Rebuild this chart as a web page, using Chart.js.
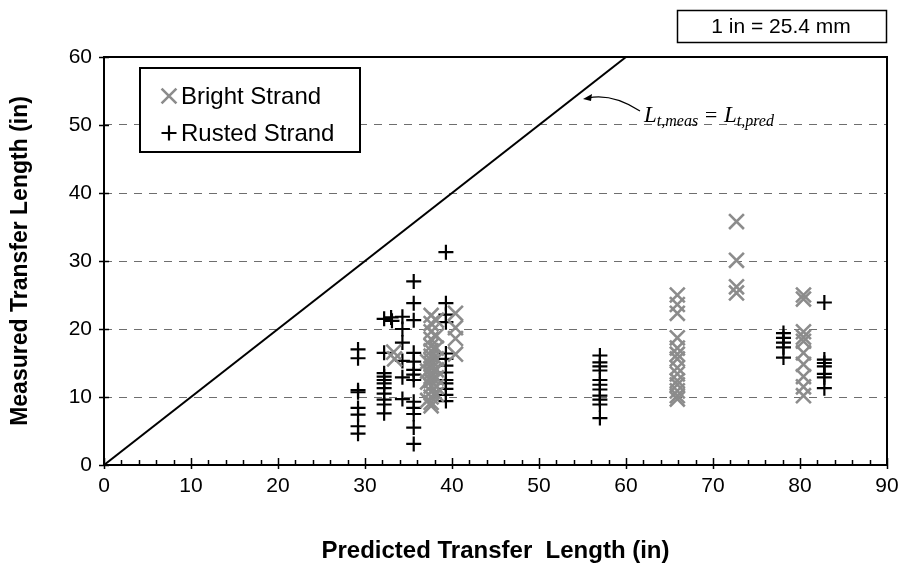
<!DOCTYPE html>
<html>
<head>
<meta charset="utf-8">
<title>Measured vs Predicted Transfer Length</title>
<script src="https://cdn.jsdelivr.net/npm/chart.js@4.4.1/dist/chart.umd.min.js"></script>
<style>
    html, body { margin: 0; padding: 0; background: #fff; }
    #chart { display: block; }
</style>
</head>
<body>
<canvas id="chart" width="911" height="572"></canvas>
<script>
    'use strict';

    // Bright strand specimens (in)
    const brightX = [
        33.3, 33.4,
        37.6, 37.6, 37.6, 37.6, 37.6, 37.6, 37.6, 37.6, 37.6, 37.6, 37.6, 37.6, 37.6, 37.6, 37.6, 37.6, 37.6, 37.6,
        38.2, 38.2, 38.2, 38.2, 38.2, 38.2, 38.2, 38.2,
        37.2, 37.2, 37.2, 37.2,
        40.4, 40.4, 40.4, 40.4,
        65.9, 65.9, 65.9, 65.9, 65.9, 65.9, 65.9, 65.9, 65.9, 65.9, 65.9, 65.9, 65.9, 65.9,
        72.7, 72.7, 72.7, 72.7,
        80.4, 80.4, 80.4, 80.4, 80.4, 80.4, 80.4, 80.4, 80.4, 80.4
    ];
    const brightY = [
        16.6, 15.6,
        22.0, 20.8, 19.6, 18.5, 17.5, 16.8, 16.0, 15.4, 14.8, 14.2, 13.6, 13.0, 12.4, 11.6, 10.8, 10.0, 9.2, 8.7,
        21.3, 19.0, 17.2, 15.6, 14.0, 12.8, 11.5, 10.4,
        15.2, 13.8, 12.2, 9.5,
        22.3, 20.2, 18.6, 16.3,
        25.0, 23.6, 22.3, 18.7, 17.2, 16.3, 15.6, 14.3, 13.4, 12.4, 11.8, 10.9, 10.2, 9.7,
        35.8, 30.1, 26.2, 25.3,
        25.0, 24.4, 19.6, 18.8, 18.2, 16.5, 14.8, 13.0, 11.5, 10.2
    ];

    // Rusted strand specimens (in)
    const rustedX = [
        29.2, 29.2, 29.2, 29.2, 29.2, 29.2, 29.2, 29.2,
        32.2, 32.2, 32.2, 32.2, 32.2, 32.2, 32.2, 32.2, 32.2, 32.2, 32.2,
        33.0, 33.1,
        34.3, 34.3, 34.3, 34.3, 34.3, 34.3,
        35.6, 35.6, 35.6, 35.6, 35.6, 35.6, 35.6, 35.6, 35.6, 35.6, 35.6, 35.6, 35.6,
        39.3, 39.3, 39.3, 39.3, 39.3, 39.3, 39.3, 39.3, 39.3, 39.3, 39.3, 39.3, 39.3,
        57.0, 57.0, 57.0, 57.0, 57.0, 57.0, 57.0, 57.0, 57.0, 57.0, 57.0,
        78.1, 78.1, 78.1, 78.1, 78.1,
        82.8, 82.8, 82.8, 82.8, 82.8, 82.8, 82.8
    ];
    const rustedY = [
        17.0, 15.7, 11.0, 10.7, 8.4, 7.4, 5.7, 4.6,
        21.5, 16.5, 13.5, 13.0, 12.5, 12.0, 11.3, 10.5, 9.6, 8.9, 7.6,
        21.7, 21.2,
        21.8, 20.0, 18.0, 15.3, 12.9, 9.7,
        27.0, 23.8, 21.3, 16.5, 15.2, 14.0, 13.3, 12.5, 9.3, 8.4, 7.5, 5.5, 3.1,
        31.3, 23.8, 22.1, 21.0, 16.4, 15.6, 14.6, 13.6, 12.5, 12.0, 11.2, 10.3, 9.4,
        16.1, 15.1, 14.5, 13.9, 12.5, 11.8, 11.1, 10.2, 9.6, 8.9, 6.9,
        19.4, 18.7, 18.0, 17.3, 15.8,
        23.9, 15.5, 15.0, 14.5, 13.4, 12.9, 11.3
    ];

    // Line of equality, Lt,meas = Lt,pred
    const equalityX = [0, 60];
    const equalityY = [0, 60];

    const xMin = 0, xMax = 90, xStep = 10, xMinorStep = 2;
    const yMin = 0, yMax = 60, yStep = 10;

    const SANS = '"Liberation Sans", Arial, sans-serif';
    const SERIF = '"Liberation Serif", "Times New Roman", serif';
    const GREY = '#8c8c8c';

    const toPoints = (xs, ys) => xs.map((x, i) => ({ x: x, y: ys[i] }));

    // plot frame plus the tick marks on both axes
    const frameTicks = {
        id: 'frameTicks',
        afterDatasetsDraw(chart) {
            const { ctx, chartArea: a, scales: { x, y } } = chart;
            ctx.save();
            ctx.strokeStyle = '#000';
            ctx.lineWidth = 1.5;
            ctx.beginPath();
            for (let v = xMin; v <= xMax; v += xMinorStep) {
                const px = Math.round(x.getPixelForValue(v)) + 0.5;
                const major = v % xStep === 0;
                ctx.moveTo(px, a.bottom - (major ? 7 : 5));
                ctx.lineTo(px, a.bottom + (major ? 4 : 0));
            }
            for (let v = yMin; v <= yMax; v += yStep) {
                const py = Math.round(y.getPixelForValue(v)) + 0.5;
                ctx.moveTo(a.left - 5, py);
                ctx.lineTo(a.left + 5, py);
            }
            ctx.stroke();
            ctx.lineWidth = 2;
            ctx.strokeRect(a.left, a.top, a.right - a.left, a.bottom - a.top);
            ctx.restore();
        }
    };

    // legend box, equality-line note and the unit box
    const overlays = {
        id: 'overlays',
        afterDraw(chart) {
            const ctx = chart.ctx;
            const sets = chart.data.datasets;
            ctx.save();

            // legend
            ctx.fillStyle = '#fff';
            ctx.fillRect(140, 68, 220, 84);
            ctx.strokeStyle = '#000';
            ctx.lineWidth = 2;
            ctx.strokeRect(140, 68, 220, 84);
            [0, 1].forEach((i, row) => {
                const ds = sets[i];
                const cy = 96 + row * 37;
                ctx.strokeStyle = ds.borderColor;
                ctx.lineWidth = ds.borderWidth;
                Chart.helpers.drawPoint(ctx, {
                    pointStyle: ds.pointStyle, radius: ds.pointRadius, borderWidth: ds.borderWidth, rotation: 0
                }, 169, cy);
                ctx.fillStyle = '#000';
                ctx.font = '24px ' + SANS;
                ctx.textAlign = 'left';
                ctx.textBaseline = 'middle';
                ctx.fillText(ds.label, 181, cy + 1);
            });

            // arrow pointing at the equality line
            ctx.strokeStyle = '#000';
            ctx.lineWidth = 1.2;
            ctx.beginPath();
            ctx.moveTo(640, 111);
            ctx.quadraticCurveTo(612, 93, 588, 98);
            ctx.stroke();
            ctx.fillStyle = '#000';
            ctx.beginPath();
            ctx.moveTo(583, 99);
            ctx.lineTo(592, 94);
            ctx.lineTo(591, 101);
            ctx.closePath();
            ctx.fill();

            // Lt,meas = Lt,pred
            let tx = 644;
            const base = 122;
            ctx.textAlign = 'left';
            ctx.textBaseline = 'alphabetic';
            const part = (txt, size, dy) => {
                ctx.font = 'italic ' + size + 'px ' + SERIF;
                ctx.fillText(txt, tx, base + dy);
                tx += ctx.measureText(txt).width;
            };
            part('L', 23, 0);
            part('t,meas', 16, 4);
            part(' = ', 22, 0);
            part('L', 23, 0);
            part('t,pred', 16, 4);

            // unit box
            ctx.fillStyle = '#fff';
            ctx.fillRect(677, 10, 209, 32);
            ctx.strokeStyle = '#000';
            ctx.lineWidth = 1.5;
            ctx.strokeRect(677.5, 10.5, 209, 32);
            ctx.fillStyle = '#000';
            ctx.font = '21px ' + SANS;
            ctx.textAlign = 'center';
            ctx.textBaseline = 'middle';
            ctx.fillText('1 in = 25.4 mm', 781, 27);
            ctx.restore();
        }
    };

    new Chart(document.getElementById('chart'), {
        type: 'scatter',
        data: {
            datasets: [
                {
                    label: 'Bright Strand',
                    data: toPoints(brightX, brightY),
                    pointStyle: 'crossRot',
                    pointRadius: 10.5,
                    borderColor: GREY,
                    backgroundColor: GREY,
                    borderWidth: 2.6
                },
                {
                    label: 'Rusted Strand',
                    data: toPoints(rustedX, rustedY),
                    pointStyle: 'cross',
                    pointRadius: 7.5,
                    borderColor: '#000',
                    backgroundColor: '#000',
                    borderWidth: 2.2
                },
                {
                    label: 'Equality',
                    data: toPoints(equalityX, equalityY),
                    showLine: true,
                    pointRadius: 0,
                    borderColor: '#000',
                    borderWidth: 2
                }
            ]
        },
        options: {
            responsive: false,
            animation: false,
            events: [],
            layout: { padding: { left: 0, right: 24, top: 57, bottom: 0 } },
            plugins: {
                legend: { display: false },
                tooltip: { enabled: false }
            },
            scales: {
                x: {
                    type: 'linear',
                    min: xMin,
                    max: xMax,
                    afterFit: s => { s.height = 107; },
                    ticks: {
                        stepSize: xStep,
                        padding: 9,
                        color: '#000',
                        font: { family: SANS, size: 21 }
                    },
                    grid: { display: false, drawTicks: false },
                    border: { display: false },
                    title: {
                        display: true,
                        text: 'Predicted Transfer  Length (in)',
                        color: '#000',
                        font: { family: SANS, size: 24, weight: 'bold' },
                        padding: { top: 0, bottom: 6 }
                    }
                },
                y: {
                    min: yMin,
                    max: yMax,
                    afterFit: s => { s.width = 104; },
                    ticks: {
                        stepSize: yStep,
                        padding: 12,
                        color: '#000',
                        font: { family: SANS, size: 21 }
                    },
                    grid: {
                        drawTicks: false,
                        lineWidth: 1,
                        color: c => (c.tick && (c.tick.value === yMin || c.tick.value === yMax)) ? 'rgba(0,0,0,0)' : '#6e6e6e'
                    },
                    border: { display: false, dash: [8, 7] },
                    title: {
                        display: true,
                        text: 'Measured Transfer Length (in)',
                        color: '#000',
                        font: { family: SANS, size: 23, weight: 'bold' },
                        padding: { top: 7, bottom: 0 }
                    }
                }
            }
        },
        plugins: [frameTicks, overlays]
    });
</script>
</body>
</html>
